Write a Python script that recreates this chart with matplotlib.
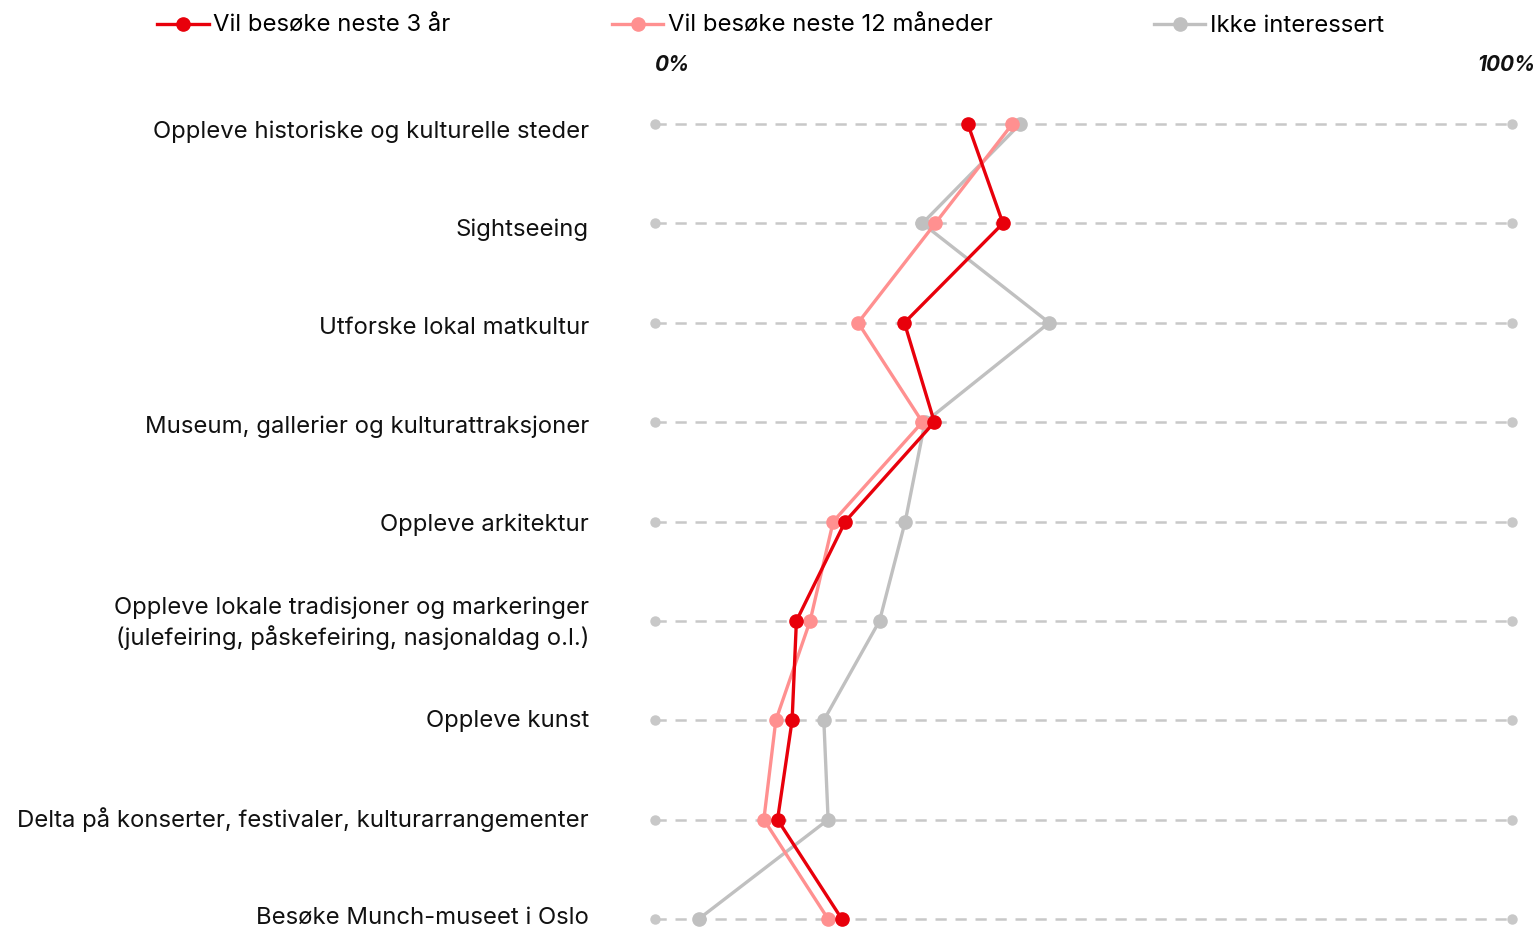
import matplotlib
matplotlib.use("Agg")
import matplotlib.pyplot as plt
from matplotlib.lines import Line2D

plt.rcParams["font.family"] = ["Inter", "DejaVu Sans"]

kategorier = [
    "Oppleve historiske og kulturelle steder",
    "Sightseeing",
    "Utforske lokal matkultur",
    "Museum, gallerier og kulturattraksjoner",
    "Oppleve arkitektur",
    "Oppleve lokale tradisjoner og markeringer\n(julefeiring, påskefeiring, nasjonaldag o.l.)",
    "Oppleve kunst",
    "Delta på konserter, festivaler, kulturarrangementer",
    "Besøke Munch-museet i Oslo",
]

# Andel i prosent
neste_3_aar = [36.5, 40.6, 29.1, 32.6, 22.2, 16.5, 16.0, 14.3, 21.8]
neste_12_mnd = [41.7, 32.7, 23.7, 31.2, 20.8, 18.1, 14.1, 12.7, 20.2]
ikke_interessert = [42.6, 31.2, 46.0, 31.5, 29.2, 26.2, 19.7, 20.2, 5.1]

serier = [
    ("Vil besøke neste 3 år", neste_3_aar, "#e8000b"),
    ("Vil besøke neste 12 måneder", neste_12_mnd, "#ff9090"),
    ("Ikke interessert", ikke_interessert, "#c0c0c0"),
]

W, H = 1540, 927
fig = plt.figure(figsize=(W / 100, H / 100), dpi=100)
ax = fig.add_axes([655 / W, (H - 919) / H, 857 / W, 795 / H])
ax.set_xlim(0, 100)
ax.set_ylim(len(kategorier) - 1, 0)
ax.axis("off")

rader = list(range(len(kategorier)))

# Stiplede hjelpelinjer med endepunkter
for r in rader:
    ax.plot([0, 100], [r, r], color="#c8c8c8", linewidth=1.8,
            dashes=(4.5, 3.5), zorder=1, clip_on=False)
    ax.plot([0, 100], [r, r], linestyle="none", marker="o", markersize=6.5,
            color="#c8c8c8", zorder=1, clip_on=False)

# Tegn rekkefølge: grå nederst, rød øverst
for navn, verdier, farge in [serier[2], serier[1], serier[0]]:
    ax.plot(verdier, rader, color=farge, linewidth=2.4, marker="o",
            markersize=9.5, zorder=3, clip_on=False)

for r, tekst in zip(rader, kategorier):
    ax.text(-7.7, r + 0.08 - 0.012 * r, tekst, ha="right", va="center",
            fontsize=17.2, color="#111111", linespacing=1.3)

ax.text(0, -0.59, "0%", ha="left", va="center", fontsize=15,
        fontweight="bold", fontstyle="italic", color="#111111")
ax.text(102.7, -0.59, "100%", ha="right", va="center", fontsize=15,
        fontweight="bold", fontstyle="italic", color="#111111")

handles = [Line2D([0], [0], color=f, linewidth=2.4, marker="o", markersize=9.5)
           for _, _, f in serier]
fig.legend(handles, [n for n, _, _ in serier], loc="upper left",
           bbox_to_anchor=(143 / W, 0.999), ncol=3, frameon=False,
           fontsize=17.2, handlelength=2.15, handletextpad=0.2,
           columnspacing=6.75, borderaxespad=0.2)

fig.savefig("out.png", dpi=100)
